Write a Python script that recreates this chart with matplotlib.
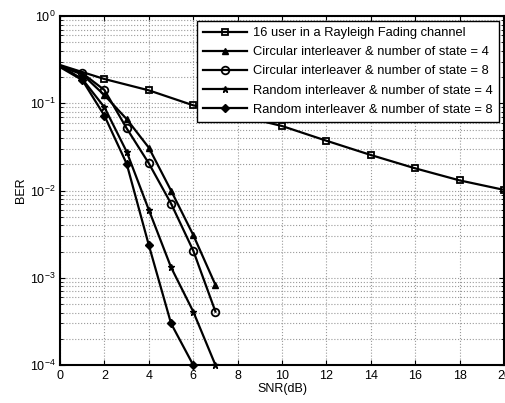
import numpy as np
import matplotlib
matplotlib.use('Agg')
import matplotlib.pyplot as plt
from matplotlib.lines import Line2D

plt.rcParams['font.family'] = ['Liberation Sans', 'DejaVu Sans']

# curves start just below 0 dB, the axes cut them at SNR = 0
snr_rayleigh = [-2, 0, 2, 4, 6, 8, 10, 12, 14, 16, 18, 20]
ber_rayleigh = [0.39, 0.275, 0.19, 0.141, 0.095, 0.073, 0.055, 0.0373, 0.0256, 0.018, 0.0131, 0.0102]

snr_circ4 = [-1, 0, 1, 2, 3, 4, 5, 6, 7]
ber_circ4 = [0.32, 0.265, 0.215, 0.124, 0.066, 0.031, 0.010, 0.0031, 0.00083]

snr_circ8 = [-1, 0, 1, 2, 3, 4, 5, 6, 7]
ber_circ8 = [0.33, 0.27, 0.222, 0.142, 0.0517, 0.0205, 0.0071, 0.00205, 0.00041]

snr_rand4 = [-1, 0, 1, 2, 3, 4, 5, 6, 7]
ber_rand4 = [0.35, 0.27, 0.19, 0.09, 0.0279, 0.006, 0.00132, 0.00041, 0.0001]

snr_rand8 = [-1, 0, 1, 2, 3, 4, 5, 6]
ber_rand8 = [0.34, 0.26, 0.185, 0.072, 0.0203, 0.00236, 0.0003, 0.0001]

labels = ['16 user in a Rayleigh Fading channel',
          'Circular interleaver & number of state = 4',
          'Circular interleaver & number of state = 8',
          'Random interleaver & number of state = 4',
          'Random interleaver & number of state = 8']

fig = plt.figure(figsize=(5.05, 4.03), dpi=100)
ax = fig.add_axes([0.119, 0.094, 0.879, 0.866])

lw = 1.6
series = [
    (snr_rayleigh, ber_rayleigh, 's', dict(ms=5, mfc='none', mew=1.3)),
    (snr_circ4, ber_circ4, '^', dict(ms=5, mfc='k')),
    (snr_circ8, ber_circ8, 'o', dict(ms=5.5, mfc='none', mew=1.3)),
    (snr_rand4, ber_rand4, '*', dict(ms=5, mfc='k')),
    (snr_rand8, ber_rand8, 'D', dict(ms=4, mfc='k')),
]
handles = []
for (x, y, m, kw), lab in zip(series, labels):
    x = np.array(x)
    y = np.array(y)
    ax.semilogy(x, y, 'k-', lw=lw)
    vis = x > 0
    ax.semilogy(x[vis], y[vis], ls='none', marker=m, mec='k', clip_on=False, **kw)
    handles.append(Line2D([], [], color='k', lw=lw, marker=m, mec='k', **kw))

ax.set_xlim(0, 20)
ax.set_ylim(1e-4, 1)
ax.set_xticks(range(0, 21, 2))
ax.grid(True, which='major', color='#999999', ls=':', lw=0.8)
ax.grid(True, which='minor', axis='y', color='#999999', ls=':', lw=0.8)
ax.tick_params(which='both', direction='in', top=True, right=True, labelsize=9)
for s in ax.spines.values():
    s.set_linewidth(1.5)

ax.set_xlabel('SNR(dB)', fontsize=9, labelpad=1)
ax.set_ylabel('BER', fontsize=9, labelpad=2)

leg = ax.legend(handles, labels, loc='upper right', fontsize=9.3, fancybox=False,
                framealpha=1, edgecolor='k', borderaxespad=0.4, handlelength=3.4,
                labelspacing=0.55, handletextpad=0.5, borderpad=0.45)
leg.get_frame().set_linewidth(1.0)

fig.savefig('out.png', dpi=100)
